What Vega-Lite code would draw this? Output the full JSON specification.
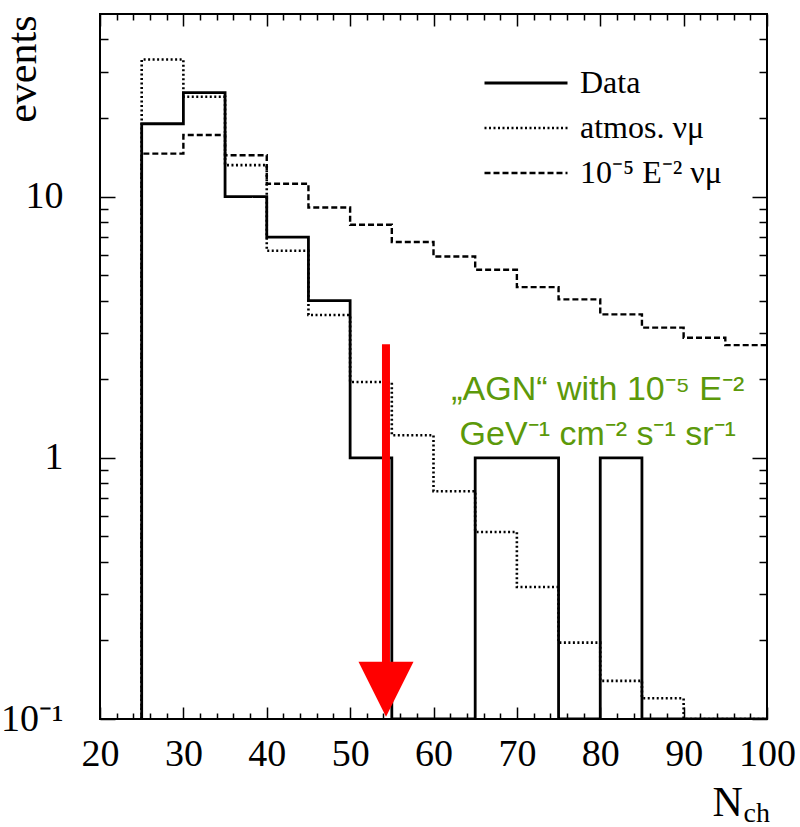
{
  "$schema": "https://vega.github.io/schema/vega-lite/v6.json",
  "width": 667,
  "height": 705,
  "autosize": {"type": "none"},
  "padding": {"left": 100, "top": 14, "right": 33, "bottom": 108},
  "background": "white",
  "config": {
    "view": {"stroke": "black", "strokeWidth": 2},
    "axis": {
      "grid": false,
      "domain": false,
      "tickColor": "black",
      "tickWidth": 1.5,
      "labelFont": "Liberation Serif",
      "labelColor": "black",
      "titleFont": "Liberation Serif",
      "titleColor": "black",
      "titleFontWeight": "normal"
    },
    "legend": {
      "labelFont": "Liberation Serif",
      "labelFontSize": 32,
      "labelColor": "black",
      "symbolType": "stroke",
      "symbolSize": 6889,
      "symbolStrokeWidth": 2.6,
      "symbolStrokeColor": "black",
      "labelOffset": 11,
      "clipHeight": 40,
      "rowPadding": 5,
      "padding": 0
    }
  },
  "datasets": {
    "hist": [
      {"series": "Data", "lo": 20, "hi": 25, "events": 0},
      {"series": "Data", "lo": 25, "hi": 30, "events": 19},
      {"series": "Data", "lo": 30, "hi": 35, "events": 25},
      {"series": "Data", "lo": 35, "hi": 40, "events": 10},
      {"series": "Data", "lo": 40, "hi": 45, "events": 7},
      {"series": "Data", "lo": 45, "hi": 50, "events": 4},
      {"series": "Data", "lo": 50, "hi": 55, "events": 1},
      {"series": "Data", "lo": 55, "hi": 60, "events": 0},
      {"series": "Data", "lo": 60, "hi": 65, "events": 0},
      {"series": "Data", "lo": 65, "hi": 70, "events": 1},
      {"series": "Data", "lo": 70, "hi": 75, "events": 1},
      {"series": "Data", "lo": 75, "hi": 80, "events": 0},
      {"series": "Data", "lo": 80, "hi": 85, "events": 1},
      {"series": "Data", "lo": 85, "hi": 90, "events": 0},
      {"series": "Data", "lo": 90, "hi": 95, "events": 0},
      {"series": "Data", "lo": 95, "hi": 100, "events": 0},
      {"series": "atmos. νμ", "lo": 20, "hi": 25, "events": 0},
      {"series": "atmos. νμ", "lo": 25, "hi": 30, "events": 33.5},
      {"series": "atmos. νμ", "lo": 30, "hi": 35, "events": 24.1},
      {"series": "atmos. νμ", "lo": 35, "hi": 40, "events": 13.2},
      {"series": "atmos. νμ", "lo": 40, "hi": 45, "events": 6.2},
      {"series": "atmos. νμ", "lo": 45, "hi": 50, "events": 3.52},
      {"series": "atmos. νμ", "lo": 50, "hi": 55, "events": 1.95},
      {"series": "atmos. νμ", "lo": 55, "hi": 60, "events": 1.22},
      {"series": "atmos. νμ", "lo": 60, "hi": 65, "events": 0.745},
      {"series": "atmos. νμ", "lo": 65, "hi": 70, "events": 0.52},
      {"series": "atmos. νμ", "lo": 70, "hi": 75, "events": 0.32},
      {"series": "atmos. νμ", "lo": 75, "hi": 80, "events": 0.196},
      {"series": "atmos. νμ", "lo": 80, "hi": 85, "events": 0.14},
      {"series": "atmos. νμ", "lo": 85, "hi": 90, "events": 0.12},
      {"series": "atmos. νμ", "lo": 90, "hi": 95, "events": 0},
      {"series": "atmos. νμ", "lo": 95, "hi": 100, "events": 0},
      {"series": "10⁻⁵ E⁻² νμ", "lo": 20, "hi": 25, "events": 0},
      {"series": "10⁻⁵ E⁻² νμ", "lo": 25, "hi": 30, "events": 14.6},
      {"series": "10⁻⁵ E⁻² νμ", "lo": 30, "hi": 35, "events": 17.2},
      {"series": "10⁻⁵ E⁻² νμ", "lo": 35, "hi": 40, "events": 14.4},
      {"series": "10⁻⁵ E⁻² νμ", "lo": 40, "hi": 45, "events": 11.2},
      {"series": "10⁻⁵ E⁻² νμ", "lo": 45, "hi": 50, "events": 9.08},
      {"series": "10⁻⁵ E⁻² νμ", "lo": 50, "hi": 55, "events": 7.8},
      {"series": "10⁻⁵ E⁻² νμ", "lo": 55, "hi": 60, "events": 6.7},
      {"series": "10⁻⁵ E⁻² νμ", "lo": 60, "hi": 65, "events": 5.9},
      {"series": "10⁻⁵ E⁻² νμ", "lo": 65, "hi": 70, "events": 5.25},
      {"series": "10⁻⁵ E⁻² νμ", "lo": 70, "hi": 75, "events": 4.5},
      {"series": "10⁻⁵ E⁻² νμ", "lo": 75, "hi": 80, "events": 4.04},
      {"series": "10⁻⁵ E⁻² νμ", "lo": 80, "hi": 85, "events": 3.54},
      {"series": "10⁻⁵ E⁻² νμ", "lo": 85, "hi": 90, "events": 3.15},
      {"series": "10⁻⁵ E⁻² νμ", "lo": 90, "hi": 95, "events": 2.88},
      {"series": "10⁻⁵ E⁻² νμ", "lo": 95, "hi": 100, "events": 2.7}
    ]
  },
  "layer": [
    {
      "data": {"name": "hist"},
      "mark": {"type": "line", "interpolate": "step-before", "color": "black", "clip": true},
      "encoding": {
        "x": {
          "field": "hi",
          "type": "quantitative",
          "scale": {"domain": [20, 100], "nice": false},
          "axis": {
            "orient": "bottom",
            "values": [20, 30, 40, 50, 60, 70, 80, 90, 100],
            "tickSize": -12,
            "labelFontSize": 38,
            "labelPadding": 28,
            "labelFlush": false,
            "title": "N",
            "titleFontSize": 42,
            "titleX": 612,
            "titleY": 96,
            "titleAlign": "left",
            "titleBaseline": "alphabetic"
          }
        },
        "y": {
          "field": "events",
          "type": "quantitative",
          "scale": {"type": "log", "domain": [0.1, 50], "clamp": true, "nice": false},
          "axis": {
            "orient": "left",
            "values": [0.1, 1, 10],
            "tickSize": -15,
            "labelFontSize": 38,
            "labelPadding": 52,
            "labelFlush": false,
            "labelExpr": "datum.value < 0.5 ? '10⁻¹' : format(datum.value, 'd')",
            "title": "events",
            "titleFontSize": 42,
            "titleAngle": -90,
            "titleX": -65,
            "titleY": 1,
            "titleAlign": "right",
            "titleBaseline": "alphabetic"
          }
        },
        "strokeDash": {
          "field": "series",
          "type": "nominal",
          "scale": {
            "domain": ["Data", "atmos. νμ", "10⁻⁵ E⁻² νμ"],
            "range": [[1, 0], [2, 2.5], [6, 3]]
          },
          "legend": {"orient": "none", "legendX": 383, "legendY": 49, "title": null}
        },
        "strokeWidth": {
          "field": "series",
          "type": "nominal",
          "scale": {
            "domain": ["Data", "atmos. νμ", "10⁻⁵ E⁻² νμ"],
            "range": [2.8, 2.4, 2.4]
          },
          "legend": null
        }
      }
    },
    {
      "data": {"values": [{}]},
      "mark": {"type": "rule", "color": "#ff0000", "strokeWidth": 8},
      "encoding": {
        "x": {
          "datum": 54.3,
          "type": "quantitative",
          "axis": {
            "orient": "bottom",
            "values": [22, 24, 26, 28, 32, 34, 36, 38, 42, 44, 46, 48, 52, 54, 56, 58, 62, 64, 66, 68, 72, 74, 76, 78, 82, 84, 86, 88, 92, 94, 96, 98],
            "tickSize": -6,
            "labels": false,
            "title": "ch",
            "titleFontSize": 28,
            "titleX": 643,
            "titleY": 102,
            "titleAlign": "left",
            "titleBaseline": "alphabetic"
          }
        },
        "y": {
          "datum": 2.72,
          "type": "quantitative",
          "axis": {
            "orient": "left",
            "values": [0.2, 0.3, 0.4, 0.5, 0.6, 0.7, 0.8, 0.9, 2, 3, 4, 5, 6, 7, 8, 9, 20, 30, 40],
            "tickSize": -8,
            "labels": false,
            "title": null
          }
        },
        "y2": {"datum": 0.165}
      }
    },
    {
      "data": {"values": [{}]},
      "mark": {"type": "point", "shape": "M-1,-1L1,-1L0,1Z", "size": 3025, "filled": true, "color": "#ff0000", "opacity": 1},
      "encoding": {
        "x": {
          "datum": 54.3,
          "type": "quantitative",
          "axis": {
            "orient": "top",
            "values": [20, 30, 40, 50, 60, 70, 80, 90, 100],
            "tickSize": -12,
            "labels": false,
            "title": null
          }
        },
        "y": {
          "datum": 0.13,
          "type": "quantitative",
          "axis": {
            "orient": "right",
            "values": [0.1, 1, 10],
            "tickSize": -15,
            "labels": false,
            "title": null
          }
        }
      }
    },
    {
      "data": {"values": [{}]},
      "mark": {
        "type": "text",
        "font": "Liberation Sans",
        "fontSize": 34,
        "color": "#5c990a",
        "align": "center",
        "baseline": "alphabetic",
        "lineHeight": 45,
        "text": ["„AGN“ with 10⁻⁵ E⁻²", "GeV⁻¹ cm⁻² s⁻¹ sr⁻¹"]
      },
      "encoding": {
        "x": {
          "datum": 79.7,
          "type": "quantitative",
          "axis": {
            "orient": "top",
            "values": [22, 24, 26, 28, 32, 34, 36, 38, 42, 44, 46, 48, 52, 54, 56, 58, 62, 64, 66, 68, 72, 74, 76, 78, 82, 84, 86, 88, 92, 94, 96, 98],
            "tickSize": -6,
            "labels": false,
            "title": null
          }
        },
        "y": {
          "datum": 1.67,
          "type": "quantitative",
          "axis": {
            "orient": "right",
            "values": [0.2, 0.3, 0.4, 0.5, 0.6, 0.7, 0.8, 0.9, 2, 3, 4, 5, 6, 7, 8, 9, 20, 30, 40],
            "tickSize": -8,
            "labels": false,
            "title": null
          }
        }
      }
    }
  ],
  "resolve": {"axis": {"x": "independent", "y": "independent"}}
}
